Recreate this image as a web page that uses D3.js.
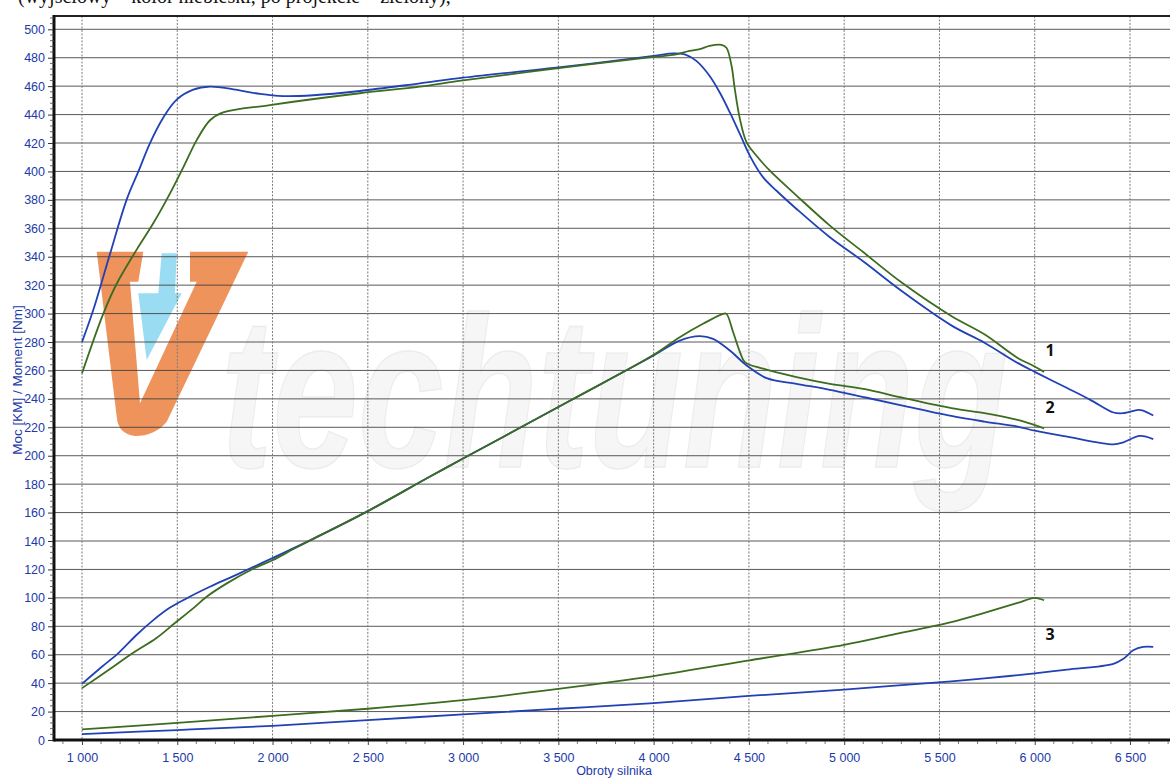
<!DOCTYPE html>
<html>
<head>
<meta charset="utf-8">
<script src="https://cdn.jsdelivr.net/npm/d3@7"></script>
<style>
  body { margin: 0; background: #fff; }
  svg { display: block; }
</style>
</head>
<body>
<svg width="1170" height="778"></svg>
<script>
// --- data (rpm / value) ---
const torqueBlueRpm = [1000,1059,1147,1234,1296,1357,1427,1497,1584,1672,1794,1934,2056,2214,2458,2773,3000,3523,4000,4102,4163,4224,4294,4347,4400,4453,4505,4575,4645,4750,4925,5101,5300,5562,5736,5910,6000,6170,6292,6413,6465,6543,6569,6622]
const torqueBlue    = [280,302.5,342,380,400,420,438,450.5,457.5,459.6,457.8,454.5,453,453.6,456.6,462,466,473.5,481.3,483.1,482.4,477.8,467.2,455.5,441.5,426.2,411,395.8,386.4,373.6,353.7,336.6,316,291.7,279.5,265.3,259,247.6,239.3,230.4,229.9,232.3,231.8,228.3]

const torqueGreenRpm = [1000,1112,1182,1287,1374,1462,1532,1602,1672,1741,1986,2458,2773,3000,3523,4000,4102,4189,4242,4294,4356,4382,4409,4426,4453,4488,4540,4610,4750,4925,5101,5300,5562,5736,5910,5997,6049]
const torqueGreen    = [258,300,321,345,363.5,384.6,403,422,436,441.5,446.7,455,459.6,464,473,480.6,482,484.8,486,488.3,489,487,474.2,457.9,436.8,420.4,411,400.5,383,361.9,343.1,322,298.3,285.4,268.8,263,259]

const powerBlueRpm = [1000,1106,1194,1283,1371,1460,1548,1671,1795,2000,2221,2500,2822,3000,3558,4000,4137,4242,4312,4400,4488,4593,4750,4925,5101,5300,5562,5736,5910,6000,6170,6413,6465,6552,6622]
const powerBlue    = [39.5,51.7,61.5,73.5,84,93,99.6,107.8,115.3,128,142,161,185,198,238.5,270.5,281,284.1,282.2,274,263.5,254.6,250.6,246.4,241.3,235.5,228,224,220.5,217.6,213.4,208,209.4,214,211.7]

const powerGreenRpm = [1000,1141,1265,1389,1486,1583,1654,1760,1901,2000,2115,2221,2500,2822,3000,3558,4000,4137,4259,4365,4382,4417,4453,4479,4575,4750,4925,5101,5300,5562,5736,5910,5997,6049]
const powerGreen    = [36.5,49.4,61,71.6,82.1,92.6,100.8,110.2,120.7,126.5,134.7,142,161,185,198,238.5,271,283.4,292.8,299.8,299.8,287,272.9,265.9,261.2,255.3,250.6,247.1,241,233.5,230,225.2,221.7,219.3]

const lowGreenRpm = [1000,1500,2000,2500,3000,3500,4000,4500,5000,5250,5562,5736,5910,5997,6023,6049]
const lowGreen    = [7.5,12,17,22,28,36,45,56,67,74,83,89.5,96.4,100,99.5,98.3]

const lowBlueRpm = [1000,1500,2000,2500,3000,3500,4000,4500,5000,5562,5736,6000,6170,6413,6465,6517,6569,6622]
const lowBlue    = [4.2,7,10,14,18,22,26,31,35.5,41.3,43.3,46.9,49.5,53.6,57.1,63.1,65.5,65.5]

const xTicks = [1000,1500,2000,2500,3000,3500,4000,4500,5000,5500,6000,6500]
const yTicks = [0,20,40,60,80,100,120,140,160,180,200,220,240,260,280,300,320,340,360,380,400,420,440,460,480,500]
const curveLabels = ['1', '2', '3']
const curveLabelAt = [[6080, 274], [6080, 234], [6080, 74.5]]

const blue = '#2141b5'
const green = '#3c6c1f'
const textBlue = '#1c3aa9'

const svg = d3.select('svg')
const x = d3.scaleLinear().domain([1000, 6500]).range([82, 1130])
const y = d3.scaleLinear().domain([0, 500]).range([740, 29.3])
const plotLeft = x(853), plotRight = 1170, plotTop = y(509.4), plotBottom = y(0)

// very faint watermark + logo
svg.append('text')
    .attr('transform', `translate(${x(1730)}, ${y(192)}) scale(1, 1.4)`)
    .attr('font-family', 'Liberation Sans').attr('font-weight', 'bold').attr('font-style', 'italic')
    .attr('font-size', 154)
    .attr('fill', '#f6f6f6').attr('stroke', '#ececec').attr('stroke-width', 1)
    .text('techtuning')

const logo = svg.append('g').attr('transform', `translate(${x(1000) - 82}, ${y(0) - 740})`)
logo.append('path')
    .attr('d', 'M96.7,251.7 L143.3,251.7 L138.3,281.7 L130,281.7 L140,403.3 L196.7,281.7 L190,281.7 L190,251.7 L248.3,251.7 L166.7,421.7 Q155,436 135,436 Q118,434 116.7,416.7 Z')
    .attr('fill', '#ee8a4e').attr('opacity', 0.92)
logo.append('path')
    .attr('d', 'M161.7,253.3 L176.7,253.3 L175,293.3 L181.7,293.3 L146.7,360 L138.3,293.3 L158.3,293.3 Z')
    .attr('fill', '#8fd8ef').attr('opacity', 0.9)

// grid
svg.append('g').selectAll('line')
    .data(yTicks.filter(d => d > 0))
    .join('line')
    .attr('x1', plotLeft).attr('x2', plotRight)
    .attr('y1', d => y(d)).attr('y2', d => y(d))
    .attr('stroke', '#3d3d3d').attr('stroke-width', 1).attr('opacity', 0.85)

svg.append('g').selectAll('line')
    .data(xTicks)
    .join('line')
    .attr('x1', d => x(d)).attr('x2', d => x(d))
    .attr('y1', plotTop).attr('y2', plotBottom)
    .attr('stroke', '#7a7a7a').attr('stroke-width', 1).attr('stroke-dasharray', '2,1.5')

// frame
svg.append('line').attr('x1', plotLeft).attr('x2', plotRight).attr('y1', plotTop).attr('y2', plotTop)
    .attr('stroke', '#222').attr('stroke-width', 2)
svg.append('line').attr('x1', plotLeft).attr('x2', plotLeft).attr('y1', plotTop - 1).attr('y2', plotBottom + 1.5)
    .attr('stroke', '#111').attr('stroke-width', 3)
svg.append('line').attr('x1', plotLeft).attr('x2', plotRight).attr('y1', plotBottom).attr('y2', plotBottom)
    .attr('stroke', '#111').attr('stroke-width', 3)

// axes
const yAxis = d3.axisLeft(y).tickValues(yTicks).tickSize(5).tickPadding(3)
const yg = svg.append('g').attr('transform', `translate(${plotLeft - 1},0)`).call(yAxis)
yg.select('.domain').remove()
yg.selectAll('text').attr('fill', textBlue).attr('font-family', 'Liberation Sans, Arial').attr('font-size', 12.5)
yg.selectAll('line').attr('stroke', '#333')

const yMinor = d3.range(0, 510, 4).filter(v => v % 20 !== 0)
svg.append('g').selectAll('line').data(yMinor).join('line')
    .attr('x1', plotLeft - 4).attr('x2', plotLeft)
    .attr('y1', d => y(d)).attr('y2', d => y(d))
    .attr('stroke', '#444').attr('stroke-width', 0.8)

const fmt = d => `${Math.floor(d / 1000)} ${String(d % 1000).padStart(3, '0')}`
const xAxis = d3.axisBottom(x).tickValues(xTicks).tickFormat(fmt).tickSize(4).tickPadding(8)
const xg = svg.append('g').attr('transform', `translate(0,${plotBottom + 1})`).call(xAxis)
xg.select('.domain').remove()
xg.selectAll('text').attr('fill', textBlue).attr('font-family', 'Liberation Sans, Arial').attr('font-size', 12.5)
xg.selectAll('line').attr('stroke', '#444')

const xMinor = d3.range(900, 6701, 100).filter(v => v % 500 !== 0)
svg.append('g').selectAll('line').data(xMinor).join('line')
    .attr('x1', d => x(d)).attr('x2', d => x(d))
    .attr('y1', plotBottom + 1).attr('y2', plotBottom + 4)
    .attr('stroke', '#555').attr('stroke-width', 0.8)

svg.append('text')
    .attr('transform', `translate(22, 380) rotate(-90)`)
    .attr('text-anchor', 'middle')
    .attr('fill', textBlue).attr('font-family', 'Liberation Sans, Arial').attr('font-size', 13.5)
    .text('Moc [KM] / Moment [Nm]')

svg.append('text')
    .attr('x', 614).attr('y', 775)
    .attr('text-anchor', 'middle')
    .attr('fill', textBlue).attr('font-family', 'Liberation Sans, Arial').attr('font-size', 12.5)
    .text('Obroty silnika')

// caption cut off at the very top of the scan
svg.append('text')
    .attr('x', 18).attr('y', 3)
    .attr('font-family', 'Liberation Serif').attr('font-size', 20).attr('fill', '#111')
    .text('(wyjściowy – kolor niebieski, po projekcie – zielony),')

// curves
const series = [
    [torqueBlueRpm, torqueBlue, blue],
    [torqueGreenRpm, torqueGreen, green],
    [powerBlueRpm, powerBlue, blue],
    [powerGreenRpm, powerGreen, green],
    [lowGreenRpm, lowGreen, green],
    [lowBlueRpm, lowBlue, blue]
]
const line = d3.line()
    .x(d => x(d[0]))
    .y(d => y(d[1]))
    .curve(d3.curveCatmullRom.alpha(0.5))

svg.append('g').selectAll('path')
    .data(series)
    .join('path')
    .attr('d', s => line(d3.zip(s[0], s[1])))
    .attr('fill', 'none')
    .attr('stroke', s => s[2])
    .attr('stroke-width', 1.8)
    .attr('stroke-linejoin', 'round')

svg.append('g').selectAll('text')
    .data(curveLabels)
    .join('text')
    .attr('x', (d, i) => x(curveLabelAt[i][0]))
    .attr('y', (d, i) => y(curveLabelAt[i][1]))
    .attr('dy', '0.35em')
    .attr('text-anchor', 'middle')
    .attr('font-family', 'Open Sans').attr('font-weight', 'bold').attr('font-size', 16)
    .attr('fill', '#111')
    .text(d => d)
</script>
</body>
</html>
